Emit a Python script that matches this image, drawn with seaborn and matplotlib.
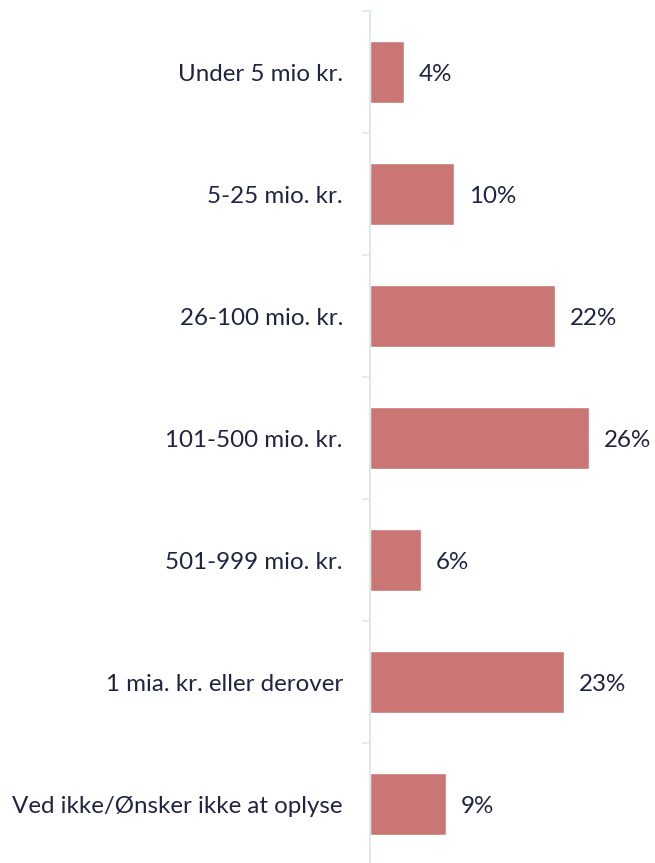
import matplotlib
matplotlib.use("Agg")
import matplotlib.pyplot as plt
import numpy as np
import pandas as pd
import seaborn as sns

categories = [
    "Under 5 mio kr.",
    "5-25 mio. kr.",
    "26-100 mio. kr.",
    "101-500 mio. kr.",
    "501-999 mio. kr.",
    "1 mia. kr. eller derover",
    "Ved ikke/Ønsker ikke at oplyse",
]
values = [4, 10, 22, 26, 6, 23, 9]

df = pd.DataFrame({"category": categories, "value": values})

sns.set_theme(style="white")
plt.rcParams["font.family"] = ["Lato", "DejaVu Sans"]

text_color = "#1f2442"
bar_color = "#c97674"
axis_color = "#dde9e5"

fig = plt.figure(figsize=(6.55, 8.63), dpi=100)
ax = fig.add_axes([370 / 655, -2 / 863, 1 - 370 / 655, 854 / 863])

sns.barplot(data=df, x="value", y="category", orient="h", color=bar_color,
            width=0.51, saturation=1, ax=ax)

ax.set_xlim(0, 285 / 8.42)
ax.set_ylim(len(categories) - 0.5, -0.5)

for i, v in enumerate(values):
    ax.text(v + 15 / 8.42, i + 0.02, f"{v}%", va="center", ha="left",
            fontsize=17.4, color=text_color)

ax.set_xlabel("")
ax.set_ylabel("")
ax.set_xticks([])
ax.set_yticks(range(len(categories)))
ax.set_yticklabels(categories, fontsize=17.4, color=text_color)
ax.tick_params(axis="y", which="major", length=0, pad=19.5)
ax.set_yticks(np.arange(-0.5, len(categories), 1), minor=True)
ax.tick_params(axis="y", which="minor", left=True, length=6, width=1.2,
               color=axis_color)

for s in ["top", "right", "bottom"]:
    ax.spines[s].set_visible(False)
ax.spines["left"].set_color(axis_color)
ax.spines["left"].set_linewidth(1.5)

fig.savefig("out.png", dpi=100, facecolor="white")
